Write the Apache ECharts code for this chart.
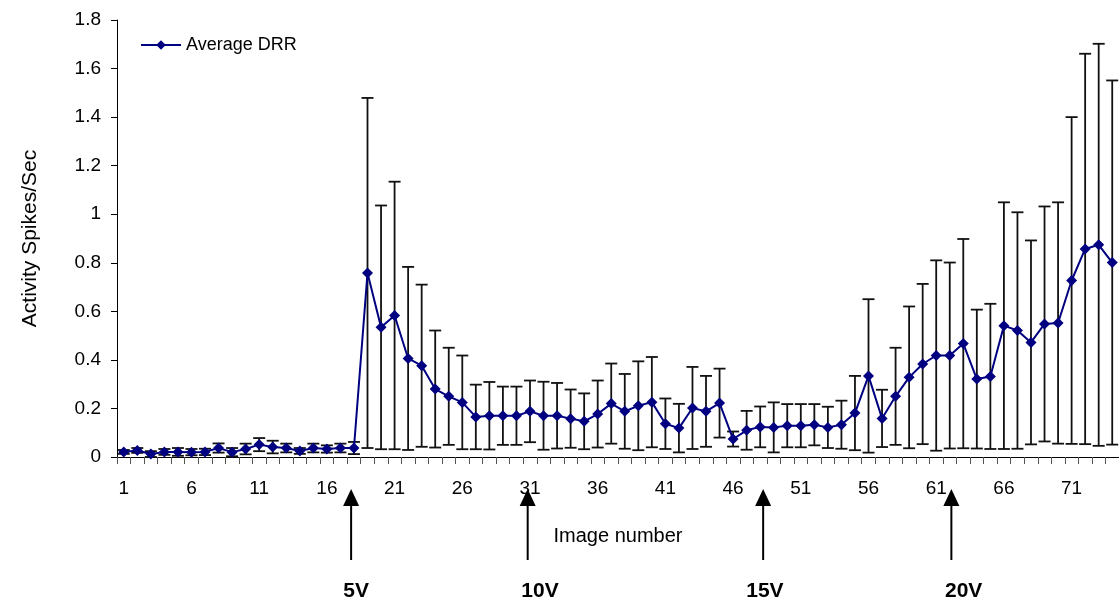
<!DOCTYPE html>
<html>
<head>
<meta charset="utf-8">
<script src="https://cdn.jsdelivr.net/npm/echarts@6/dist/echarts.min.js"></script>
<style>
html,body{margin:0;padding:0;background:#fff;}
#main{width:1119px;height:606px;}
</style>
</head>
<body>
<div id="main"></div>
<script>
// ---- data ----
const categories = ['1','2','3','4','5','6','7','8','9','10','11','12','13','14','15','16','17','18','19','20',
  '21','22','23','24','25','26','27','28','29','30','31','32','33','34','35','36','37','38','39','40',
  '41','42','43','44','45','46','47','48','49','50','51','52','53','54','55','56','57','58','59','60',
  '61','62','63','64','65','66','67','68','69','70','71','72','73','74'];

const averageDRR = [
  0.021,0.027,0.012,0.021,0.021,0.020,0.021,0.037,0.020,0.033,0.051,0.041,0.037,0.025,0.037,0.033,0.037,0.037,
  0.758,0.534,0.583,0.406,0.376,0.280,0.250,0.225,0.165,0.170,0.170,0.170,0.188,
  0.170,0.170,0.158,0.147,0.177,0.220,0.188,0.211,0.226,0.137,0.119,0.202,0.188,0.222,0.074,0.110,0.124,
  0.122,0.129,0.129,0.133,0.122,0.133,0.181,0.334,0.159,0.250,0.328,0.383,0.418,0.418,0.467,0.321,0.332,
  0.541,0.521,0.472,0.548,0.552,0.727,0.857,0.874,0.801
];

const errorDRR = [
  0.008,0.010,0.012,0.012,0.016,0.013,0.013,0.019,0.017,0.022,0.027,0.026,0.018,0.012,0.018,0.015,0.018,0.025,
  0.721,0.502,0.551,0.377,0.334,0.241,0.200,0.193,0.133,0.139,0.120,0.120,0.127,
  0.140,0.135,0.120,0.115,0.138,0.165,0.154,0.183,0.186,0.104,0.100,0.169,0.146,0.142,0.031,0.080,0.084,
  0.103,0.089,0.089,0.085,0.085,0.099,0.153,0.316,0.118,0.200,0.292,0.330,0.392,0.383,0.431,0.286,0.299,
  0.508,0.487,0.420,0.484,0.497,0.673,0.804,0.828,0.750
];

const yTicks = { min: 0, max: 1.8, interval: 0.2 };

// voltage markers (image-number position of arrow, of label)
const voltLabels = ['5V', '10V', '15V', '20V'];
const voltArrowAt = [17.79, 30.83, 48.22, 62.12];
const voltLabelAt = [18.16, 31.74, 48.35, 63.03];

// ---- chart ----
const FONT = 'Liberation Sans, Arial, sans-serif';
const chart = echarts.init(document.getElementById('main'));

const errData = averageDRR.map((m, i) => [i, m - errorDRR[i], m + errorDRR[i]]);

function renderErr(params, api) {
  const i = api.value(0);
  const lo = api.coord([i, api.value(1)]);
  const hi = api.coord([i, api.value(2)]);
  const hw = 6;
  const st = { stroke: '#111', lineWidth: 1.8 };
  return {
    type: 'group',
    children: [
      { type: 'line', shape: { x1: lo[0], y1: lo[1], x2: hi[0], y2: hi[1] }, style: st },
      { type: 'line', shape: { x1: hi[0] - hw, y1: hi[1], x2: hi[0] + hw, y2: hi[1] }, style: st },
      { type: 'line', shape: { x1: lo[0] - hw, y1: lo[1], x2: lo[0] + hw, y2: lo[1] }, style: st }
    ]
  };
}

chart.setOption({
  animation: false,
  backgroundColor: '#fff',
  textStyle: { fontFamily: FONT },
  grid: { left: 117, right: 0, top: 20, bottom: 149, containLabel: false },
  legend: {
    data: ['Average DRR'],
    left: 140, top: 36, padding: 0,
    itemWidth: 40, itemHeight: 12,
    textStyle: { fontFamily: FONT, fontSize: 18, color: '#000' }
  },
  xAxis: [{
    type: 'category',
    data: categories,
    boundaryGap: true,
    name: 'Image number',
    nameLocation: 'middle',
    nameGap: 69,
    nameTextStyle: { fontFamily: FONT, fontSize: 20, color: '#000' },
    axisLine: { lineStyle: { color: '#000', width: 1 } },
    axisTick: { show: true, interval: 0, length: 7, lineStyle: { color: '#555' } },
    axisLabel: { interval: 4, margin: 22, fontFamily: FONT, fontSize: 19, color: '#000' },
    splitLine: { show: false }
  }, {
    type: 'value', min: 0.5, max: 74.5, show: false, position: 'bottom'
  }],
  yAxis: {
    type: 'value',
    min: yTicks.min, max: yTicks.max, interval: yTicks.interval,
    name: 'Activity Spikes/Sec',
    nameLocation: 'middle',
    nameRotate: 90,
    nameGap: 76,
    nameTextStyle: { fontFamily: FONT, fontSize: 21, color: '#000' },
    axisLine: { show: true, lineStyle: { color: '#000', width: 1 } },
    axisTick: { show: true, length: 6, lineStyle: { color: '#000' } },
    axisLabel: { margin: 16, fontFamily: FONT, fontSize: 19, color: '#000' },
    splitLine: { show: false }
  },
  series: [{
    name: 'errors',
    type: 'custom',
    xAxisIndex: 0,
    renderItem: renderErr,
    data: errData,
    encode: { x: 0, y: [1, 2] },
    z: 1,
    silent: true
  }, {
    name: 'Average DRR',
    type: 'line',
    xAxisIndex: 0,
    data: averageDRR,
    symbol: 'diamond',
    symbolSize: 11,
    showAllSymbol: true,
    color: '#000080',
    lineStyle: { color: '#000080', width: 2 },
    itemStyle: { color: '#000080' },
    z: 3
  }]
});

function drawMarkers() {
  const g = [];
  const tipY = 489, headY = 506, baseY = 560, labelY = 591;
  voltLabels.forEach((lab, k) => {
    const ax = chart.convertToPixel({ xAxisIndex: 1 }, voltArrowAt[k]);
    const lx = chart.convertToPixel({ xAxisIndex: 1 }, voltLabelAt[k]);
    g.push({ type: 'line', shape: { x1: ax, y1: headY - 1, x2: ax, y2: baseY }, style: { stroke: '#000', lineWidth: 2 } });
    g.push({ type: 'polygon', shape: { points: [[ax, tipY], [ax - 8, headY], [ax + 8, headY]] }, style: { fill: '#000' } });
    g.push({ type: 'text', x: lx, y: labelY, style: { text: lab, fontFamily: FONT, fontWeight: 'bold', fontSize: 21, fill: '#000', align: 'center', verticalAlign: 'middle' } });
  });
  chart.setOption({ graphic: g });
}
drawMarkers();
</script>
</body>
</html>
